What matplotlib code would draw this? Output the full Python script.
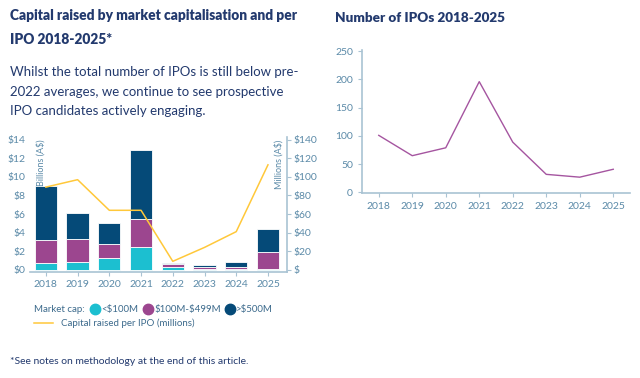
import matplotlib.pyplot as plt
from matplotlib.lines import Line2D

years = ["2018", "2019", "2020", "2021", "2022", "2023", "2024", "2025"]
small_cap = [0.72, 0.86, 1.22, 2.4, 0.32, 0.1, 0.08, 0.12]
mid_cap = [2.43, 2.4, 1.58, 3.08, 0.25, 0.15, 0.22, 1.82]
large_cap = [5.85, 2.83, 2.22, 7.42, 0.18, 0.3, 0.5, 2.4]
per_ipo = [89, 97, 64, 64, 9, 24, 41, 113]
ipo_count = [101, 65, 79, 196, 89, 32, 27, 41]

navy = "#233a6e"
tick_col = "#5b8aa8"
spine_col = "#a9c3d3"
leg_col = "#3c6a8c"
c_small = "#1cbfd0"
c_mid = "#9c468f"
c_large = "#054a78"
c_line = "#ffc83a"

plt.rcParams["font.family"] = ["Lato", "DejaVu Sans"]

fig = plt.figure(figsize=(6.4, 3.78), dpi=100)
W, H = 640, 378

def box(x0, y0, x1, y1):
    return [x0 / W, 1 - y1 / H, (x1 - x0) / W, (y1 - y0) / H]

# left chart
ax = fig.add_axes(box(30, 137, 287, 272))
x = range(len(years))
ax.bar(x, small_cap, width=0.7, color=c_small, edgecolor="white", linewidth=0.6)
ax.bar(x, mid_cap, width=0.7, bottom=small_cap, color=c_mid, edgecolor="white", linewidth=0.6)
bot2 = [a + b for a, b in zip(small_cap, mid_cap)]
ax.bar(x, large_cap, width=0.7, bottom=bot2, color=c_large, edgecolor="white", linewidth=0.6)
ax.set_xlim(-0.5, 7.6)
ax.set_ylim(-0.25, 14.3)
ax.set_yticks(range(0, 15, 2))
ax.set_yticklabels([f"${v}" for v in range(0, 15, 2)])
ax.set_xticks(list(x))
ax.set_xticklabels(years)
for s in ["top", "left", "right"]:
    ax.spines[s].set_visible(False)
ax.spines["bottom"].set_color(spine_col)
ax.spines["bottom"].set_linewidth(1.2)
ax.tick_params(axis="y", length=0, colors=tick_col, labelsize=7.5, pad=3)
ax.tick_params(axis="x", length=3, color=spine_col, colors=tick_col, labelsize=7.5, pad=3)
ax.text(0.025, 0.98, "Billions (A$)", rotation=90, transform=ax.transAxes,
        ha="left", va="top", fontsize=6.5, color=tick_col)

ax2 = ax.twinx()
ax2.plot(list(x), per_ipo, color=c_line, linewidth=1.1)
ax2.set_ylim(-2.5, 143)
ax2.set_yticks(range(0, 141, 20))
ax2.set_yticklabels(["$"] + [f"${v}" for v in range(20, 141, 20)])
for s in ["top", "left", "bottom"]:
    ax2.spines[s].set_visible(False)
ax2.spines["right"].set_color(spine_col)
ax2.spines["right"].set_linewidth(1.2)
ax2.tick_params(axis="y", length=3, color=spine_col, colors=tick_col, labelsize=7.5, pad=2)
ax2.text(0.985, 0.98, "Millions (A$)", rotation=90, transform=ax2.transAxes,
         ha="right", va="top", fontsize=6.5, color=tick_col)

# right chart
bx = fig.add_axes(box(362, 50, 630, 193))
bx.plot(range(len(years)), ipo_count, color="#a555a0", linewidth=1.0)
bx.set_xlim(-0.5, 7.5)
bx.set_ylim(-1, 252)
bx.set_yticks(range(0, 251, 50))
bx.set_xticks(range(len(years)))
bx.set_xticklabels(years)
for s in ["top", "right"]:
    bx.spines[s].set_visible(False)
for s in ["left", "bottom"]:
    bx.spines[s].set_color(spine_col)
    bx.spines[s].set_linewidth(1.2)
bx.tick_params(length=3, color=spine_col, colors=tick_col, labelsize=7.5)

# texts
fig.text(10 / W, 1 - 9 / H, "Capital raised by market capitalisation and per\nIPO 2018-2025*",
         fontsize=9.9, fontweight="heavy", color=navy, va="top", linespacing=2.0)
fig.text(10 / W, 1 - 66 / H,
         "Whilst the total number of IPOs is still below pre-\n2022 averages, we continue to see prospective\nIPO candidates actively engaging.",
         fontsize=9.5, color=navy, va="top", linespacing=1.75)
fig.text(335 / W, 1 - 22 / H, "Number of IPOs 2018-2025", fontsize=9.7, fontweight="heavy",
         color=navy, va="baseline")
fig.text(10 / W, 1 - 364 / H, "*See notes on methodology at the end of this article.",
         fontsize=7.5, color=navy, va="baseline")

# legend
fig.text(34 / W, 1 - 312 / H, "Market cap:", fontsize=7, color=leg_col, va="baseline")
items = [(95, c_small, "<\\$100M"), (148, c_mid, "\\$100M-\\$499M"), (230, c_large, ">\\$500M")]
for px, col, lab in items:
    fig.add_artist(Line2D([px / W], [1 - 309 / H], marker="o", markersize=7.5,
                          color=col, linestyle="none"))
    fig.text((px + 6) / W, 1 - 312 / H, lab, fontsize=7, color=leg_col, va="baseline")
fig.add_artist(Line2D([34 / W, 53 / W], [1 - 323 / H, 1 - 323 / H], color=c_line, linewidth=1.1))
fig.text(61 / W, 1 - 326 / H, "Capital raised per IPO (millions)", fontsize=7,
         color=leg_col, va="baseline")

fig.savefig("out.png", dpi=100)
